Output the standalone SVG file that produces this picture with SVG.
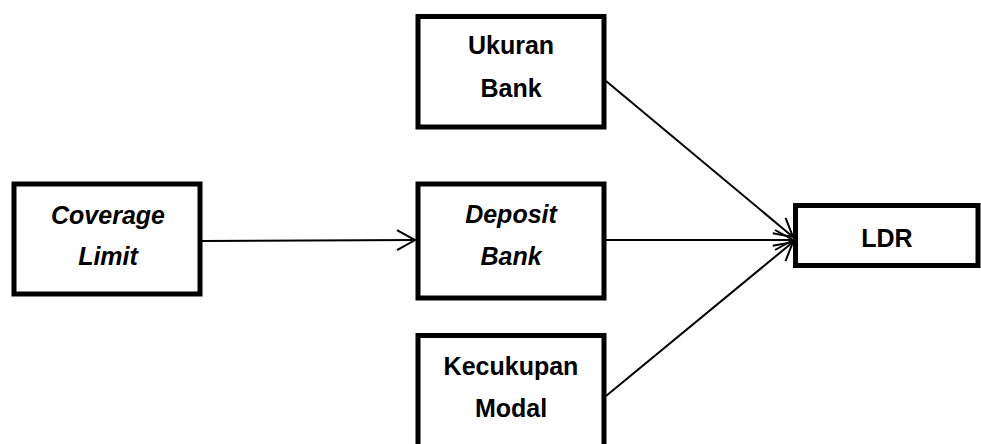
<svg xmlns="http://www.w3.org/2000/svg" width="981" height="444" viewBox="0 0 981 444">
  <style>
    .box { fill: #ffffff; stroke: #000000; stroke-width: 5; }
    .lbl { font-family: "Liberation Sans", Arial, sans-serif; font-weight: bold; font-size: 25px; fill: #000000; text-anchor: middle; }
    .it { font-style: italic; }
    .edge { fill: none; stroke: #000000; stroke-width: 2; marker-end: url(#open); }
  </style>
  <defs>
    <marker id="open" markerUnits="userSpaceOnUse" markerWidth="24" markerHeight="24" refX="20" refY="12" orient="auto">
      <path d="M2,2 L20,12 L2,22" fill="none" stroke="#000000" stroke-width="2"/>
    </marker>
  </defs>
  <rect width="981" height="444" fill="#ffffff"/>

  <g id="connectors">
    <line class="edge" x1="202" y1="241" x2="415" y2="240"/>
    <line class="edge" x1="606" y1="81" x2="793" y2="237"/>
    <line class="edge" x1="606" y1="240" x2="793" y2="240"/>
    <line class="edge" x1="606" y1="396" x2="793" y2="242"/>
  </g>

  <g id="coverage-limit">
    <rect class="box" x="14" y="184" width="186" height="110"/>
    <text class="lbl it" x="108" y="224">Coverage</text>
    <text class="lbl it" x="108" y="265">Limit</text>
  </g>

  <g id="ukuran-bank">
    <rect class="box" x="418" y="16.5" width="186" height="110.5"/>
    <text class="lbl" x="511" y="54">Ukuran</text>
    <text class="lbl" x="511" y="97">Bank</text>
  </g>

  <g id="deposit-bank">
    <rect class="box" x="418" y="184" width="186" height="114"/>
    <text class="lbl it" x="511" y="223">Deposit</text>
    <text class="lbl it" x="511" y="265">Bank</text>
  </g>

  <g id="kecukupan-modal">
    <rect class="box" x="418" y="335.5" width="186" height="130"/>
    <text class="lbl" x="511" y="375">Kecukupan</text>
    <text class="lbl" x="511" y="417">Modal</text>
  </g>

  <g id="ldr">
    <rect class="box" x="795.5" y="205.5" width="182.5" height="60"/>
    <text class="lbl" x="887" y="247">LDR</text>
  </g>
</svg>
